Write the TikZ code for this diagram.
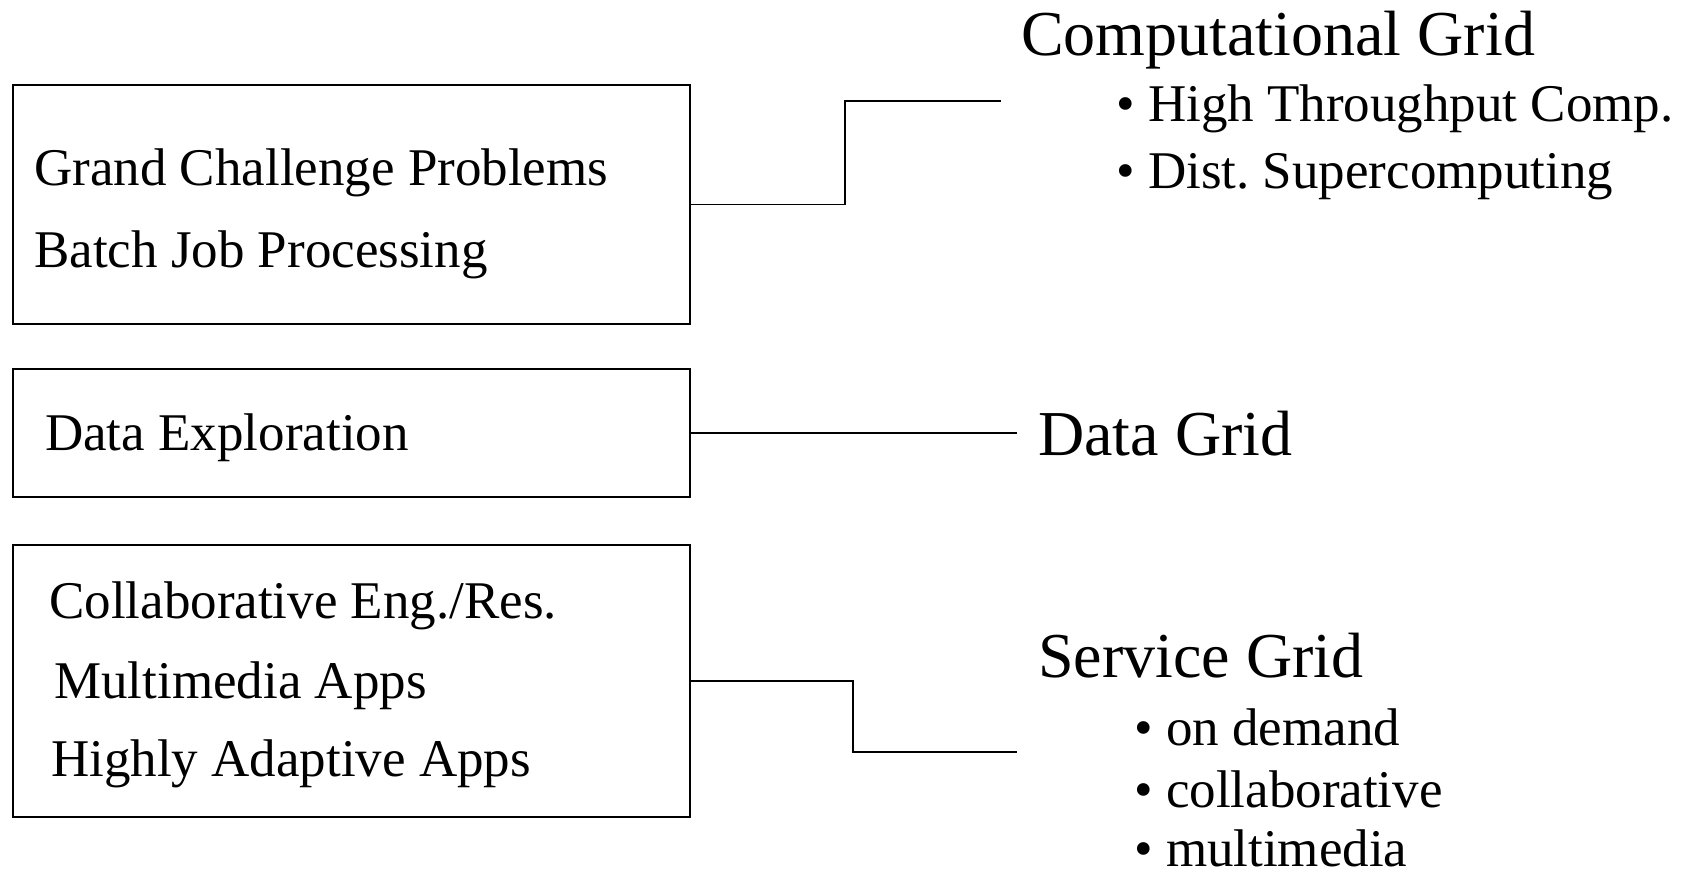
\documentclass[tikz,border=0pt]{standalone}
\usepackage{fontspec}
\setmainfont{Liberation Serif}
\frenchspacing
\begin{document}
\begin{tikzpicture}[x=1pt,y=-1pt,
  appbox/.style={draw, line width=1.5pt, inner sep=0pt, outer sep=0pt, anchor=north west},
  link/.style={line width=1.8pt},
  apptext/.style={anchor=base west, inner sep=0pt, font=\fontsize{53}{60}\selectfont},
  gridtitle/.style={anchor=base west, inner sep=0pt, font=\fontsize{64}{70}\selectfont},
  griditem/.style={anchor=base west, inner sep=0pt, font=\fontsize{53}{60}\selectfont}]
\useasboundingbox (0,0) rectangle (1683,874);

% application boxes
\node[appbox, minimum width=677pt, minimum height=239pt] (b1) at (13,85) {};
\node[appbox, minimum width=677pt, minimum height=128pt] (b2) at (13,369) {};
\node[appbox, minimum width=677pt, minimum height=272pt] (b3) at (13,545) {};

\node[apptext] (t11) at (34,186) {Grand Challenge Problems};
\node[apptext] (t12) at (34,268) {Batch Job Processing};
\node[apptext] (t21) at (45,450) {Data Exploration};
\node[apptext] (t31) at (49,618) {Collaborative Eng./Res.};
\node[apptext] (t32) at (54,698) {Multimedia Apps};
\node[apptext] (t33) at (51,776) {Highly Adaptive Apps};

% grid types
\node[gridtitle] (g1) at (1021,56) {Computational Grid};
\node[griditem] (g11) at (1116,122) {• High Throughput Comp.};
\node[griditem] (g12) at (1116,189) {• Dist. Supercomputing};
\node[gridtitle] (g2) at (1038,455) {Data Grid};
\node[gridtitle] (g3) at (1038,677) {Service Grid};
\node[griditem] (g31) at (1134,745) {• on demand};
\node[griditem] (g32) at (1134,807) {• collaborative};
\node[griditem] (g33) at (1134,866) {• multimedia};

% connector ends
\coordinate (e1) at (1001,101);
\coordinate (e2) at (1017,433);
\coordinate (e3) at (1017,752);

\draw[link] (b1.east) -- ++(155,0) |- (e1);
\draw[link] (b2.east) -- (e2);
\draw[link] (b3.east) -- ++(163,0) |- (e3);
\end{tikzpicture}
\end{document}
